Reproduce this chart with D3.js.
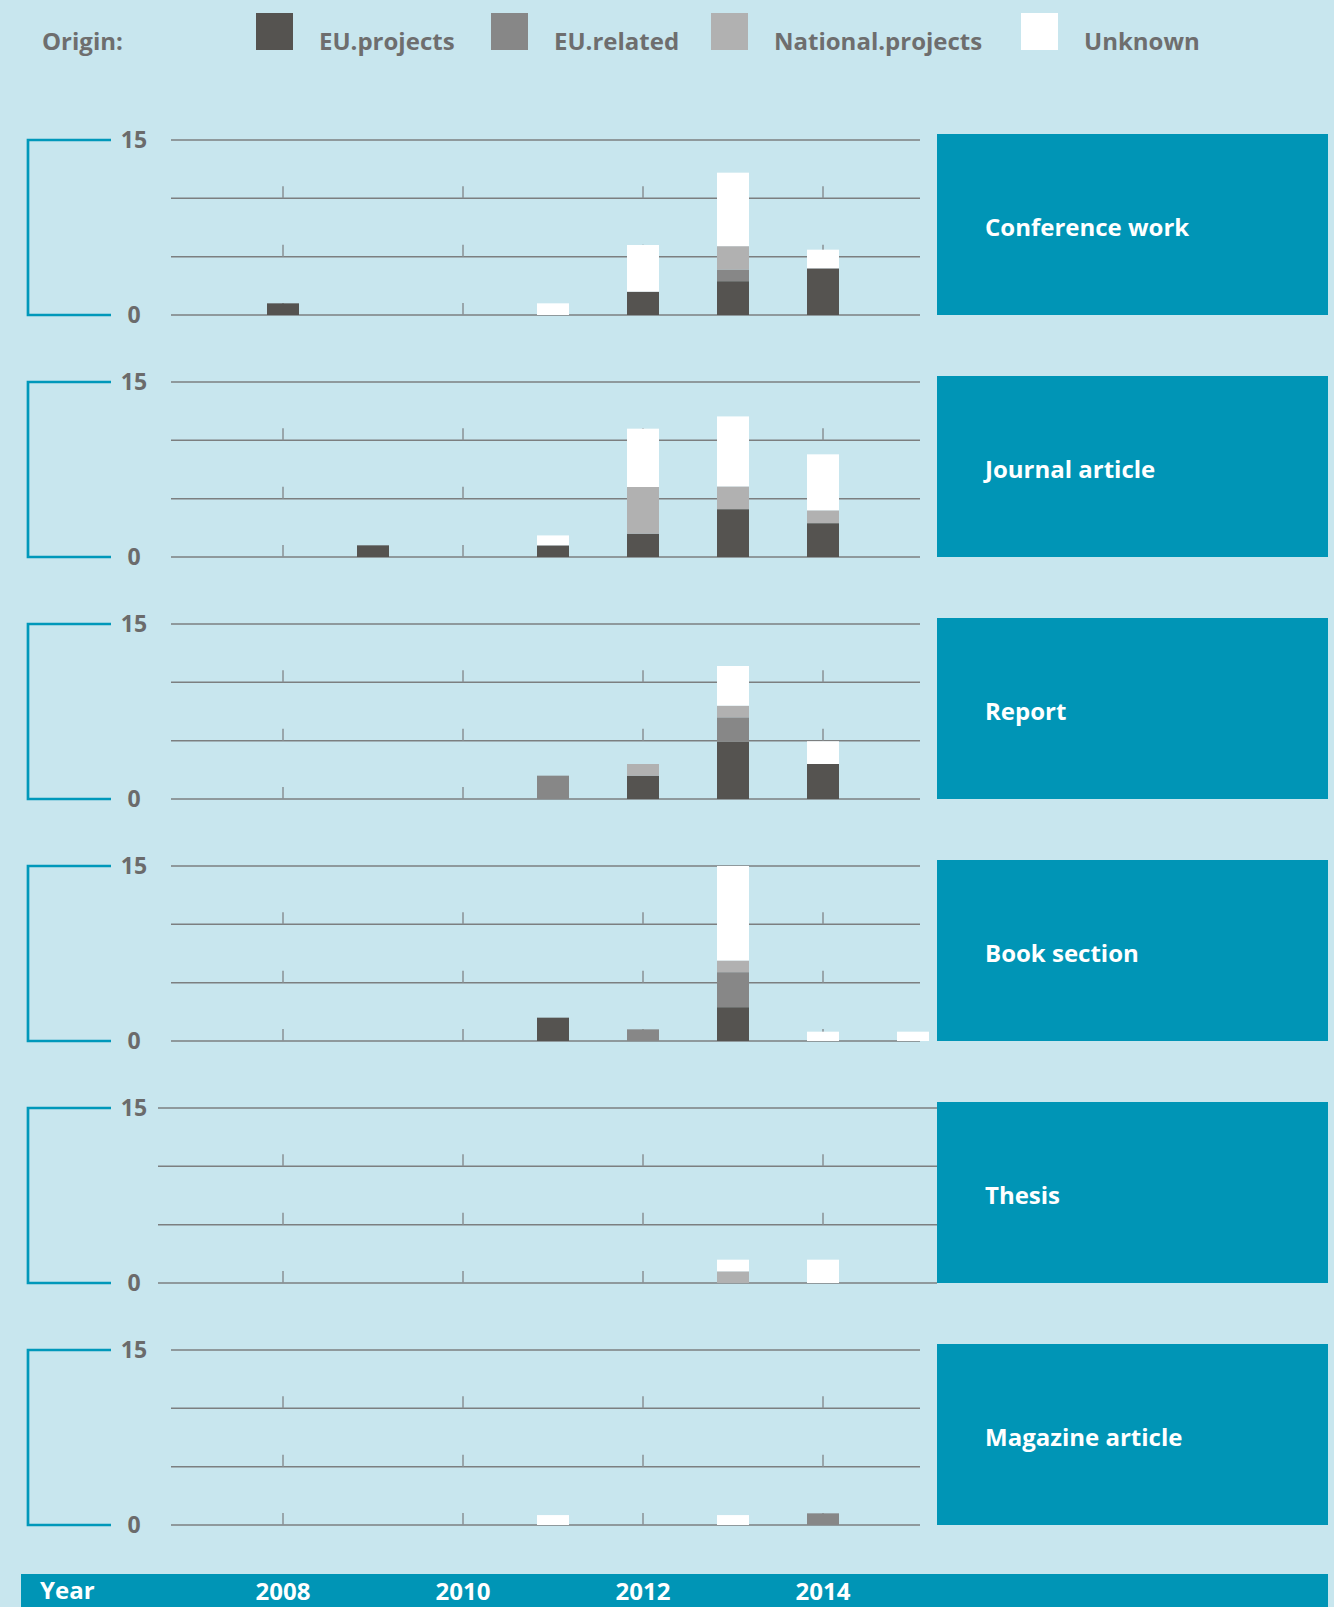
<!DOCTYPE html>
<html lang="en">
<head>
  <meta charset="utf-8">
  <title>Output by origin and type</title>
  <script src="https://d3js.org/d3.v7.min.js"></script>
  <style>
    body { margin: 0; background: #c8e6ee; }
    svg text { font-family: "Open Sans", sans-serif; font-weight: 700; }
  </style>
</head>
<body>
  <div id="chart"></div>

  <script type="text/javascript">
    "use strict"
    // dados: [ano, EU.projects, EU.related, National.projects, Unknown]
    var origens = ["EU.projects", "EU.related", "National.projects", "Unknown"];
    var tipos = ["Conference work", "Journal article", "Report", "Book section", "Thesis", "Magazine article"];
    var anosEixo = [2008, 2010, 2012, 2014];

    var conferenceWork = [
      [2008, 1, 0, 0, 0],
      [2011, 0, 0, 0, 1],
      [2012, 2, 0, 0, 4],
      [2013, 2.9, 1, 2, 6.3],
      [2014, 4, 0, 0, 1.6]
    ];
    var journalArticle = [
      [2009, 1, 0, 0, 0],
      [2011, 1, 0, 0, 0.85],
      [2012, 2, 0, 4, 5],
      [2013, 4.1, 0, 1.95, 6],
      [2014, 2.9, 0, 1.1, 4.8]
    ];
    var report = [
      [2011, 0, 2, 0, 0],
      [2012, 2, 0, 1, 0],
      [2013, 4.9, 2.1, 1, 3.4],
      [2014, 3, 0, 0, 1.95]
    ];
    var bookSection = [
      [2011, 2, 0, 0, 0],
      [2012, 0, 1, 0, 0],
      [2013, 2.9, 3, 1, 8.1],
      [2014, 0, 0, 0, 0.8],
      [2015, 0, 0, 0, 0.8]
    ];
    var thesis = [
      [2013, 0, 0, 1, 1],
      [2014, 0, 0, 0, 2]
    ];
    var magazineArticle = [
      [2011, 0, 0, 0, 0.85],
      [2013, 0, 0, 0, 0.85],
      [2014, 0, 1, 0, 0]
    ];
    var dadosPorTipo = [conferenceWork, journalArticle, report, bookSection, thesis, magazineArticle];

    var cores = d3.scaleOrdinal()
      .domain(origens)
      .range(["#555350", "#878787", "#b1b1b1", "#ffffff"]);

    var larguraSVG = 1334, alturaSVG = 1607;
    var svg = d3.select('#chart')
      .append('svg')
        .attr('width', larguraSVG)
        .attr('height', alturaSVG);

    svg.append('rect')
      .attr('width', larguraSVG).attr('height', alturaSVG)
      .attr('fill', '#c8e6ee');

    /*
     * legenda
     */
    var legenda = svg.append('g');
    legenda.append('text')
      .attr('x', 42).attr('y', 50)
      .attr('font-size', 24).attr('fill', '#6e6e6e')
      .text('Origin:');
    var posLegenda = [256, 491, 711, 1021];
    origens.forEach(function (o, i) {
      legenda.append('rect')
        .attr('x', posLegenda[i]).attr('y', 13)
        .attr('width', 37).attr('height', 37)
        .attr('fill', cores(o));
      legenda.append('text')
        .attr('x', posLegenda[i] + 63).attr('y', 50)
        .attr('font-size', 24).attr('fill', '#6e6e6e')
        .text(o);
    });

    // escala x comum (anos)
    var x = d3.scaleLinear().domain([2008, 2014]).range([283, 823]);
    var larguraBarra = 32;
    var pilha = d3.stack()
      .keys(origens.map((o, i) => i + 1));

    tipos.forEach(function (tipo, t) {
      var topo = 140 + t * 242;
      var y = d3.scaleLinear().domain([0, 15]).range([topo + 175, topo]);
      var g = svg.append('g');
      var inicioGrade = tipo == "Thesis" ? 158 : 171;
      var fimGrade = tipo == "Thesis" ? 937 : 920;

      // colchete azul a esquerda
      g.append('path')
        .attr('d', 'M111,' + y(15) + 'H28V' + y(0) + 'H111')
        .attr('fill', 'none')
        .attr('stroke', '#0098ba')
        .attr('stroke-width', 2.7);

      // linhas de grade
      g.selectAll('.grade')
        .data(y.ticks(3))
        .enter().append('line')
          .attr('x1', inicioGrade).attr('x2', fimGrade)
          .attr('y1', d => y(d)).attr('y2', d => y(d))
          .attr('stroke', '#7c7f80')
          .attr('stroke-width', 1.5);

      // marcas dos anos sobre as linhas 0, 5, 10
      y.ticks(3).filter(v => v < 15).forEach(function (v) {
        g.selectAll(null)
          .data(anosEixo)
          .enter().append('line')
            .attr('x1', d => x(d)).attr('x2', d => x(d))
            .attr('y1', y(v) - 12).attr('y2', y(v))
            .attr('stroke', '#8a9094')
            .attr('stroke-width', 1.5);
      });

      // rotulos 0 e 15
      g.selectAll('.rot')
        .data(y.domain())
        .enter().append('text')
          .attr('x', 134)
          .attr('y', d => y(d))
          .attr('dy', '0.35em')
          .attr('text-anchor', 'middle')
          .attr('font-size', 23)
          .attr('fill', '#6b6b6b')
          .text(d => d);

      // barras empilhadas
      var series = pilha(dadosPorTipo[t]);
      series.forEach(function (s, k) {
        g.selectAll(null)
          .data(s.filter(d => d[1] > d[0]))
          .enter().append('rect')
            .attr('x', d => x(d.data[0]) - larguraBarra / 2)
            .attr('y', d => y(d[1]))
            .attr('width', larguraBarra)
            .attr('height', d => y(d[0]) - y(d[1]))
            .attr('fill', cores(origens[k]));
      });

      // caixa com o nome do tipo
      g.append('rect')
        .attr('x', 937).attr('y', topo - 6)
        .attr('width', 391).attr('height', 181)
        .attr('fill', '#0095b6');
      g.append('text')
        .attr('x', 985).attr('y', topo - 6 + 94)
        .attr('dy', '0.35em')
        .attr('font-size', 24)
        .attr('fill', '#ffffff')
        .text(tipo);
    });

    /*
     * faixa de baixo com os anos
     */
    svg.append('rect')
      .attr('x', 21).attr('y', 1574)
      .attr('width', 1307).attr('height', 40)
      .attr('fill', '#0095b6');
    svg.append('text')
      .attr('x', 40).attr('y', 1599)
      .attr('font-size', 24).attr('fill', '#ffffff')
      .text('Year');
    svg.selectAll('.ano')
      .data(anosEixo)
      .enter().append('text')
        .attr('x', d => x(d))
        .attr('y', 1600)
        .attr('text-anchor', 'middle')
        .attr('font-size', 24)
        .attr('fill', '#ffffff')
        .text(d => d);
  </script>
</body>
</html>
